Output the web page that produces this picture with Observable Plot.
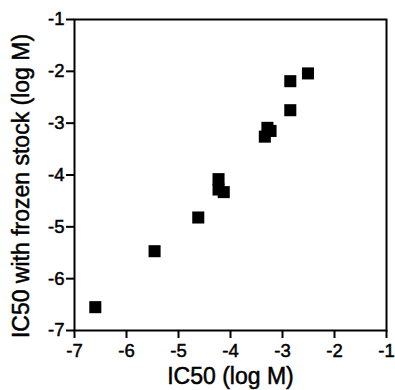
<!DOCTYPE html>
<html>
<head>
<meta charset="utf-8">
<script src="https://cdn.jsdelivr.net/npm/d3@7"></script>
<script src="https://cdn.jsdelivr.net/npm/@observablehq/plot@0.6"></script>
<style>
  html, body { margin: 0; padding: 0; background: #fff; }
  #chart svg text { font-size: 18.5px !important; stroke: #000; stroke-width: 0.5px; }
  #chart svg g[aria-label="x-axis label"] text,
  #chart svg g[aria-label="x-axis label"],
  #chart svg g.ylabel text,
  #chart svg g.ylabel { font-size: 23px !important; }
</style>
</head>
<body>
<div id="chart"></div>
<script>
const ic50 = [-6.6, -5.46, -4.62, -4.23, -4.23, -4.13, -3.29, -3.23, -3.34, -2.85, -2.85, -2.51];
const ic50Frozen = [-6.55, -5.47, -4.82, -4.08, -4.28, -4.33, -3.09, -3.15, -3.26, -2.75, -2.19, -2.04];
const ticks = [-7, -6, -5, -4, -3, -2, -1];
const xLabel = "IC50 (log M)";
const yLabel = "IC50 with frozen stock (log M)";

const data = ic50.map((x, i) => ({x, y: ic50Frozen[i]}));
const fmt = d => d < 0 ? "-" + Math.abs(d) : String(d);

const chart = Plot.plot({
  width: 395,
  height: 390,
  marginLeft: 74,
  marginRight: 9,
  marginTop: 19,
  marginBottom: 60,
  style: {fontFamily: "Liberation Sans, Arial, sans-serif", color: "#000", background: "#fff"},
  x: {domain: [-7, -1], ticks: ticks, label: null},
  y: {domain: [-7, -1], ticks: ticks, label: null},
  marks: [
    Plot.frame({stroke: "#000", strokeWidth: 2}),
    Plot.axisX({ticks: ticks, tickSize: 8, tickPadding: 5, strokeWidth: 2, label: xLabel, labelAnchor: "center", labelOffset: 53, labelArrow: "none", tickFormat: fmt}),
    Plot.axisY({ticks: ticks, tickSize: 8, tickPadding: 2, strokeWidth: 2, label: null, tickFormat: fmt}),
    Plot.text([yLabel], {text: d => d, frameAnchor: "left", rotate: -90, dx: -46, dy: 11, textAnchor: "middle", lineAnchor: "bottom", fill: "#000", className: "ylabel"}),
    Plot.dot(data, {x: "x", y: "y", symbol: "square", r: 6.8, fill: "#000", stroke: "none"})
  ]
});
document.getElementById("chart").appendChild(chart);
</script>
</body>
</html>
